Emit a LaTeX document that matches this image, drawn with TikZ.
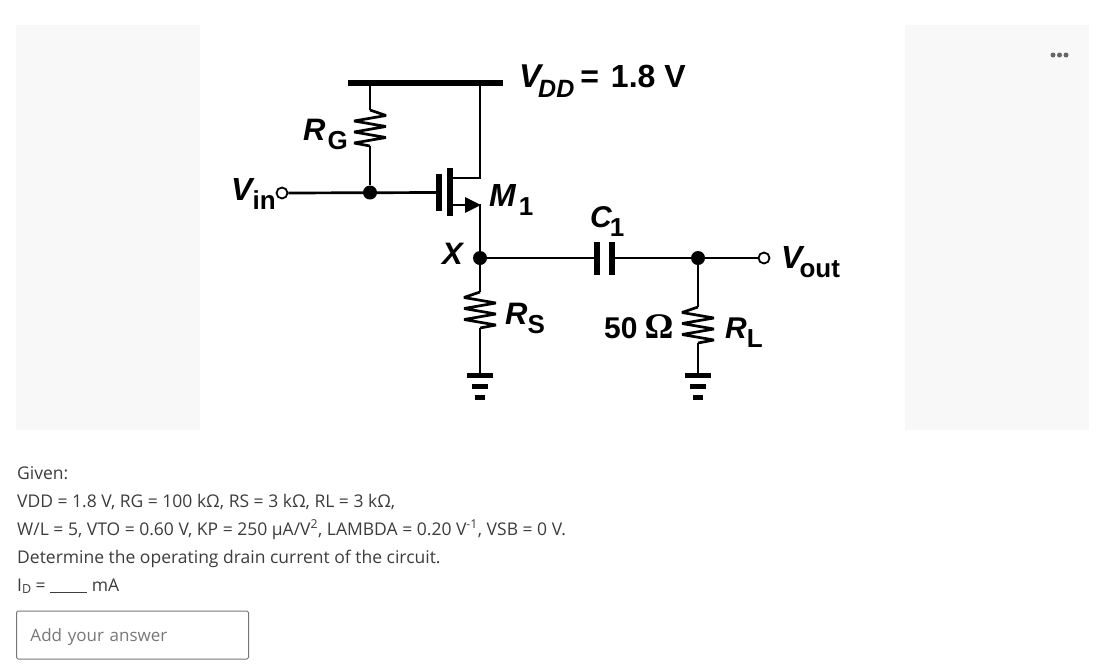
\documentclass[tikz,border=0pt]{standalone}
\usepackage{fontspec}
\setmainfont{Liberation Sans}
\newfontfamily\bodyfont{Open Sans}
\newfontfamily\omegafont{Liberation Serif}
\usepackage{tikz}
\usetikzlibrary{arrows.meta}
\definecolor{panelgray}{HTML}{F8F8F8}
\definecolor{bodygray}{HTML}{3C3C3C}
\definecolor{hintgray}{HTML}{777777}
\newcommand{\circlabel}[2]{{\fontsize{#1}{#1}\selectfont\bfseries\itshape #2}}
\newcommand{\circsub}[1]{\raisebox{-9pt}{\fontsize{26}{26}\selectfont\bfseries #1}}
\tikzset{
    wire/.style={line width=2.7pt, black},
    res/.style={wire, line join=bevel, to path={-- ++(-16,5.5) -- ++(32,5.5) -- ++(-32,5.5) -- ++(32,5.5) -- ++(-32,5.5) -- ++(32,5.5) -- (\tikztotarget)}},
    rail/.style={line width=6.5pt, black},
    plate/.style={line width=5.5pt, black},
    dot/.style={circle, fill=black, inner sep=0pt, minimum size=14pt},
    port/.style={circle, draw=black, line width=1.8pt, fill=white, inner sep=0pt, minimum size=11pt},
    lab/.style={inner sep=0pt, anchor=base west, text=black},
    bodytext/.style={inner sep=0pt, anchor=base west, text=bodygray, font=\bodyfont\fontsize{17.5}{20}\selectfont},
    panel/.style={fill=panelgray, draw=none, inner sep=0pt, minimum width=184pt, minimum height=405pt}
}
\begin{document}
\begin{tikzpicture}[x=1pt, y=-1pt]
    \useasboundingbox (0,0) rectangle (1111,665);
    % Side panels
    \node[panel] (leftpanel) at (108,227.5) {};
    \node[panel] (rightpanel) at (997,227.5) {};
    \foreach \dx [count=\i] in {1053,1059.5,1066} {
        \node[circle, fill=black!60, inner sep=0pt, minimum size=5pt] (menu\i) at (\dx,55) {};
    }

    % Supply rail
    \coordinate (railL) at (348,83);
    \coordinate (railR) at (503,83);
    \coordinate (railG) at (370,83);
    \coordinate (railD) at (480,83);
    \draw[rail] (railL) -- (railR);

    % Gate resistor
    \coordinate (rgtop) at (370,110);
    \coordinate (rgbot) at (370,146);
    \node[dot] (gatedot) at (370,192.5) {};
    \node[port] (vin) at (282,193) {};
    \draw[wire] (railG) -- (rgtop);
    \draw[res, xscale=-1] (rgtop) to (rgbot);
    \draw[wire] (rgbot) -- (gatedot);

    % Transistor
    \coordinate (gate) at (439,192.5);
    \coordinate (gatetop) at (439,174);
    \coordinate (gatebot) at (439,211);
    \coordinate (chtop) at (450,168);
    \coordinate (chbot) at (450,216);
    \coordinate (drain) at (480,178);
    \coordinate (drainL) at (450,178);
    \coordinate (source) at (481,205);
    \coordinate (sourceL) at (450,205);
    \draw[wire] (vin) -- (gate);
    \draw[plate] (gatetop) -- (gatebot);
    \draw[plate] (chtop) -- (chbot);
    \draw[wire, line join=miter] (railD) -- (drain) -- (drainL);
    \draw[wire, -{Triangle[length=16pt,width=15pt]}] (sourceL) -- (source);

    % Source node and resistor
    \node[dot] (x) at (480,258) {};
    \coordinate (rstop) at (480,292);
    \coordinate (rsbot) at (480,328);
    \coordinate (gnda) at (480,375);
    \draw[wire] (480,204) -- (x);
    \draw[wire] (x) -- (rstop);
    \draw[res] (rstop) to (rsbot);
    \draw[wire] (rsbot) -- (gnda);

    % Coupling capacitor
    \coordinate (c1l) at (597,258);
    \coordinate (c1r) at (612,258);
    \node[dot] (outdot) at (698,258) {};
    \node[port] (vout) at (764,258) {};
    \draw[wire] (x) -- (c1l);
    \draw[plate] (597,242) -- (597,275);
    \draw[plate] (612,242) -- (612,275);
    \draw[wire] (c1r) -- (outdot);
    \draw[wire] (outdot) -- (vout);

    % Load resistor
    \coordinate (rltop) at (698,307);
    \coordinate (rlbot) at (698,343);
    \coordinate (gndb) at (698,375);
    \draw[wire] (outdot) -- (rltop);
    \draw[res] (rltop) to (rlbot);
    \draw[wire] (rlbot) -- (gndb);

    % Grounds
    \foreach \g in {gnda,gndb} {
        \draw[line width=5pt] ([xshift=-13pt]\g) -- ([xshift=13pt]\g);
        \draw[line width=5pt] ([xshift=-8pt,yshift=-11.5pt]\g) -- ([xshift=8pt,yshift=-11.5pt]\g);
        \draw[line width=5pt] ([xshift=-5pt,yshift=-22pt]\g) -- ([xshift=5pt,yshift=-22pt]\g);
    }

    % Circuit labels
    \node[lab] (vddlab) at (519,87) {\circlabel{33}{V}\kern-3pt\raisebox{-10pt}{\fontsize{25}{25}\selectfont\bfseries\itshape DD}\kern6pt\fontsize{32}{32}\selectfont\bfseries =\kern12pt 1.8 V};
    \node[lab] (rglab) at (303,140) {\circlabel{31}{R}\kern2pt\circsub{G}};
    \node[lab] (vinlab) at (231,200) {\circlabel{32}{V}\kern0pt\circsub{in}};
    \node[lab] (m1lab) at (489,206) {\circlabel{32}{M}\kern3pt\circsub{1}};
    \node[lab] (xlab) at (442,264) {\circlabel{31}{X}};
    \node[lab] (c1lab) at (590,227) {\circlabel{30}{C}\kern-2pt\circsub{1}};
    \node[lab] (rslab) at (505,324) {\circlabel{31}{R}\circsub{S}};
    \node[lab] (ohmlab) at (604,338) {\fontsize{30}{30}\selectfont\bfseries 50\kern7pt{\omegafont\fontsize{36}{36}\selectfont\symbol{"03A9}}};
    \node[lab] (rllab) at (725,338) {\circlabel{30}{R}\circsub{L}};
    \node[lab] (voutlab) at (781,268) {\circlabel{32}{V}\kern-3pt\circsub{out}};

    % Question text
    \node[bodytext] (given) at (17,479) {Given:};
    \node[bodytext] (line1) at (17,507) {VDD = 1.8 V, RG = 100 k\symbol{"03A9}, RS = 3 k\symbol{"03A9}, RL = 3 k\symbol{"03A9},};
    \node[bodytext] (line2) at (17,535) {W/L = 5, VTO = 0.60 V, KP = 250 \symbol{"00B5}A/V\textsuperscript{2}, LAMBDA = 0.20 V\textsuperscript{-1}, VSB = 0 V.};
    \node[bodytext] (line3) at (17,563) {Determine the operating drain current of the circuit.};
    \node[bodytext] (line4) at (17,591) {I\raisebox{-2pt}{\fontsize{12.5}{12.5}\selectfont D} = \rule[-2pt]{37pt}{1pt} mA};

    % Answer box
    \node[draw=hintgray, line width=1pt, rounded corners=1.5pt, minimum width=232pt, minimum height=48pt, inner sep=0pt,
          text=hintgray, text width=204pt, text height=15pt, text depth=3pt, font=\bodyfont\fontsize{17}{20}\selectfont] (answer) at (132.5,635) {Add your answer};
\end{tikzpicture}
\end{document}
